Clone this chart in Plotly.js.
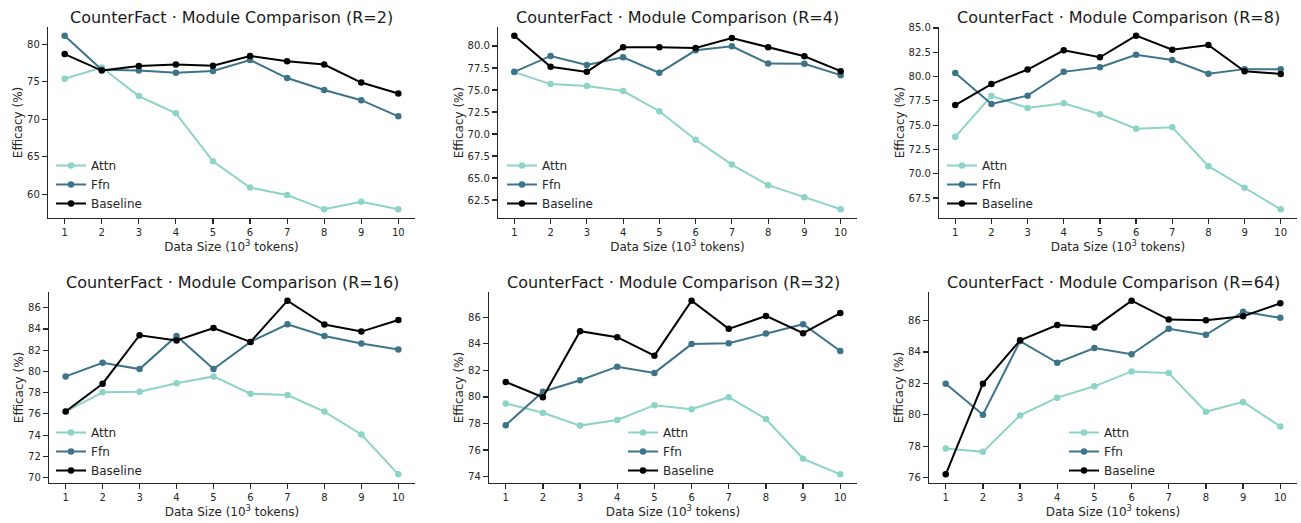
<!DOCTYPE html>
<html>
<head>
<meta charset="utf-8">
<script src="https://cdn.plot.ly/plotly-3.0.1.min.js"></script>
<style>html,body{margin:0;padding:0;background:#fff}#chart{width:1301px;height:523px}</style>
</head>
<body>
<div id="chart"></div>
<script>
// ---- data ----
const dataSizes = [1, 2, 3, 4, 5, 6, 7, 8, 9, 10];
const seriesNames = ["Attn", "Ffn", "Baseline"];
const ranks = [2, 4, 8, 16, 32, 64];

const attnR2 = [75.4, 76.9, 73.1, 70.8, 64.4, 60.9, 59.9, 58.0, 59.0, 58.0];
const ffnR2 = [81.15, 76.6, 76.5, 76.2, 76.45, 77.9, 75.5, 73.9, 72.55, 70.4];
const baseR2 = [78.7, 76.5, 77.1, 77.3, 77.15, 78.45, 77.75, 77.3, 74.9, 73.45];

const attnR4 = [77.03, 75.67, 75.45, 74.88, 72.59, 69.35, 66.53, 64.19, 62.83, 61.45];
const ffnR4 = [77.06, 78.87, 77.85, 78.72, 76.95, 79.51, 79.96, 78.0, 77.97, 76.69];
const baseR4 = [81.17, 77.63, 77.06, 79.85, 79.85, 79.77, 80.9, 79.85, 78.83, 77.14];

const attnR8 = [73.8, 78.0, 76.77, 77.25, 76.12, 74.63, 74.79, 70.78, 68.56, 66.34];
const ffnR8 = [80.35, 77.18, 78.03, 80.48, 80.96, 82.24, 81.7, 80.28, 80.76, 80.76];
const baseR8 = [77.06, 79.22, 80.72, 82.7, 81.98, 84.2, 82.76, 83.24, 80.54, 80.27];

const attnR16 = [76.22, 78.03, 78.09, 78.88, 79.53, 77.9, 77.78, 76.22, 74.06, 70.31];
const ffnR16 = [79.53, 80.81, 80.22, 83.34, 80.22, 82.78, 84.44, 83.34, 82.63, 82.06];
const baseR16 = [76.22, 78.84, 83.41, 82.91, 84.09, 82.78, 86.66, 84.41, 83.75, 84.84];

const attnR32 = [79.51, 78.81, 77.84, 78.26, 79.38, 79.08, 79.98, 78.33, 75.34, 74.17];
const ffnR32 = [77.87, 80.39, 81.26, 82.28, 81.81, 83.98, 84.05, 84.78, 85.48, 83.46];
const baseR32 = [81.13, 79.98, 84.95, 84.5, 83.11, 87.25, 85.13, 86.1, 84.8, 86.32];

const attnR64 = [77.85, 77.64, 79.96, 81.09, 81.81, 82.76, 82.65, 80.19, 80.82, 79.26];
const ffnR64 = [81.98, 80.0, 84.69, 83.31, 84.25, 83.85, 85.47, 85.09, 86.55, 86.17];
const baseR64 = [76.21, 81.98, 84.74, 85.71, 85.56, 87.26, 86.06, 86.02, 86.27, 87.09];

const panelSeries = [
  [attnR2, ffnR2, baseR2],
  [attnR4, ffnR4, baseR4],
  [attnR8, ffnR8, baseR8],
  [attnR16, ffnR16, baseR16],
  [attnR32, ffnR32, baseR32],
  [attnR64, ffnR64, baseR64]
];

// ---- styling / layout ----
const W = 1301, H = 523;
const colors = ["#8dd3c7", "#3d7489", "#000000"];
const FONT = "DejaVu Sans, Liberation Sans, sans-serif";
const TXT = "#262626";

// pixel boxes [left, right, top, bottom]
const boxes = [
  [48, 415, 27, 218], [498, 857, 27, 218], [939, 1297, 27, 218],
  [49, 415, 292, 483], [489, 857, 292, 483], [929, 1297, 292, 483]
];
const dticks = [5, 2.5, 2.5, 2, 2, 2];
const tfmt = ["d", ".1f", ".1f", "d", "d", "d"];
// legend anchor (px): left, top
const legendPos = [[51, 151], [502, 151], [942, 151], [51, 418], [623, 418], [1064, 418]];

const traces = [];
const layout = {
  width: W, height: H,
  margin: {l: 0, r: 0, t: 0, b: 0},
  paper_bgcolor: "#fff", plot_bgcolor: "#fff",
  font: {family: FONT, color: TXT, size: 10},
  annotations: [],
  showlegend: true
};

panelSeries.forEach((series, i) => {
  const n = i + 1;
  const xa = "x" + (n === 1 ? "" : n), ya = "y" + (n === 1 ? "" : n);
  const legName = "legend" + (n === 1 ? "" : n);
  series.forEach((vals, k) => {
    traces.push({
      type: "scatter", mode: "lines+markers",
      x: dataSizes, y: vals, name: seriesNames[k],
      xaxis: xa, yaxis: ya, legend: legName,
      line: {color: colors[k], width: 2},
      marker: {color: colors[k], size: 6.5}
    });
  });
  const all = series.flat();
  const mn = Math.min(...all), mx = Math.max(...all);
  const pad = (mx - mn) * 0.05;
  const [L, R, T, B] = boxes[i];
  const xKey = "xaxis" + (n === 1 ? "" : n), yKey = "yaxis" + (n === 1 ? "" : n);
  layout[xKey] = {
    domain: [L / W, R / W], anchor: ya,
    range: [0.55, 10.45], tickmode: "array", tickvals: dataSizes,
    ticks: "outside", ticklen: 5, tickwidth: 1.2, tickcolor: TXT,
    showline: true, linecolor: TXT, linewidth: 1.2,
    showgrid: false, zeroline: false,
    tickfont: {size: 10, family: FONT, color: TXT},
    title: {text: "Data Size (10<sup>3</sup> tokens)", font: {size: 12, family: FONT, color: TXT}, standoff: 3}
  };
  layout[yKey] = {
    domain: [1 - B / H, 1 - T / H], anchor: xa,
    range: [mn - pad, mx + pad], tick0: 0, dtick: dticks[i], tickformat: tfmt[i],
    ticks: "outside", ticklen: 5, tickwidth: 1.2, tickcolor: TXT,
    showline: true, linecolor: TXT, linewidth: 1.2,
    showgrid: false, zeroline: false,
    tickfont: {size: 10, family: FONT, color: TXT},
    title: {text: "Efficacy (%)", font: {size: 12, family: FONT, color: TXT}, standoff: 1}
  };
  layout.annotations.push({
    text: "CounterFact · Module Comparison (R=" + ranks[i] + ")",
    xref: "paper", yref: "paper",
    x: ((L + R) / 2) / W, y: 1 - (T - 10) / H,
    xanchor: "center", yanchor: "middle", showarrow: false,
    font: {size: 16, family: FONT, color: "#1a1a1a"}
  });
  layout[legName] = {
    x: legendPos[i][0] / W, y: 1 - legendPos[i][1] / H,
    xanchor: "left", yanchor: "top",
    bgcolor: "rgba(0,0,0,0)", borderwidth: 0,
    font: {size: 12, family: FONT, color: TXT},
    tracegroupgap: 0, itemwidth: 30
  };
});

Plotly.newPlot("chart", traces, layout, {staticPlot: true, displayModeBar: false});
</script>
</body>
</html>
